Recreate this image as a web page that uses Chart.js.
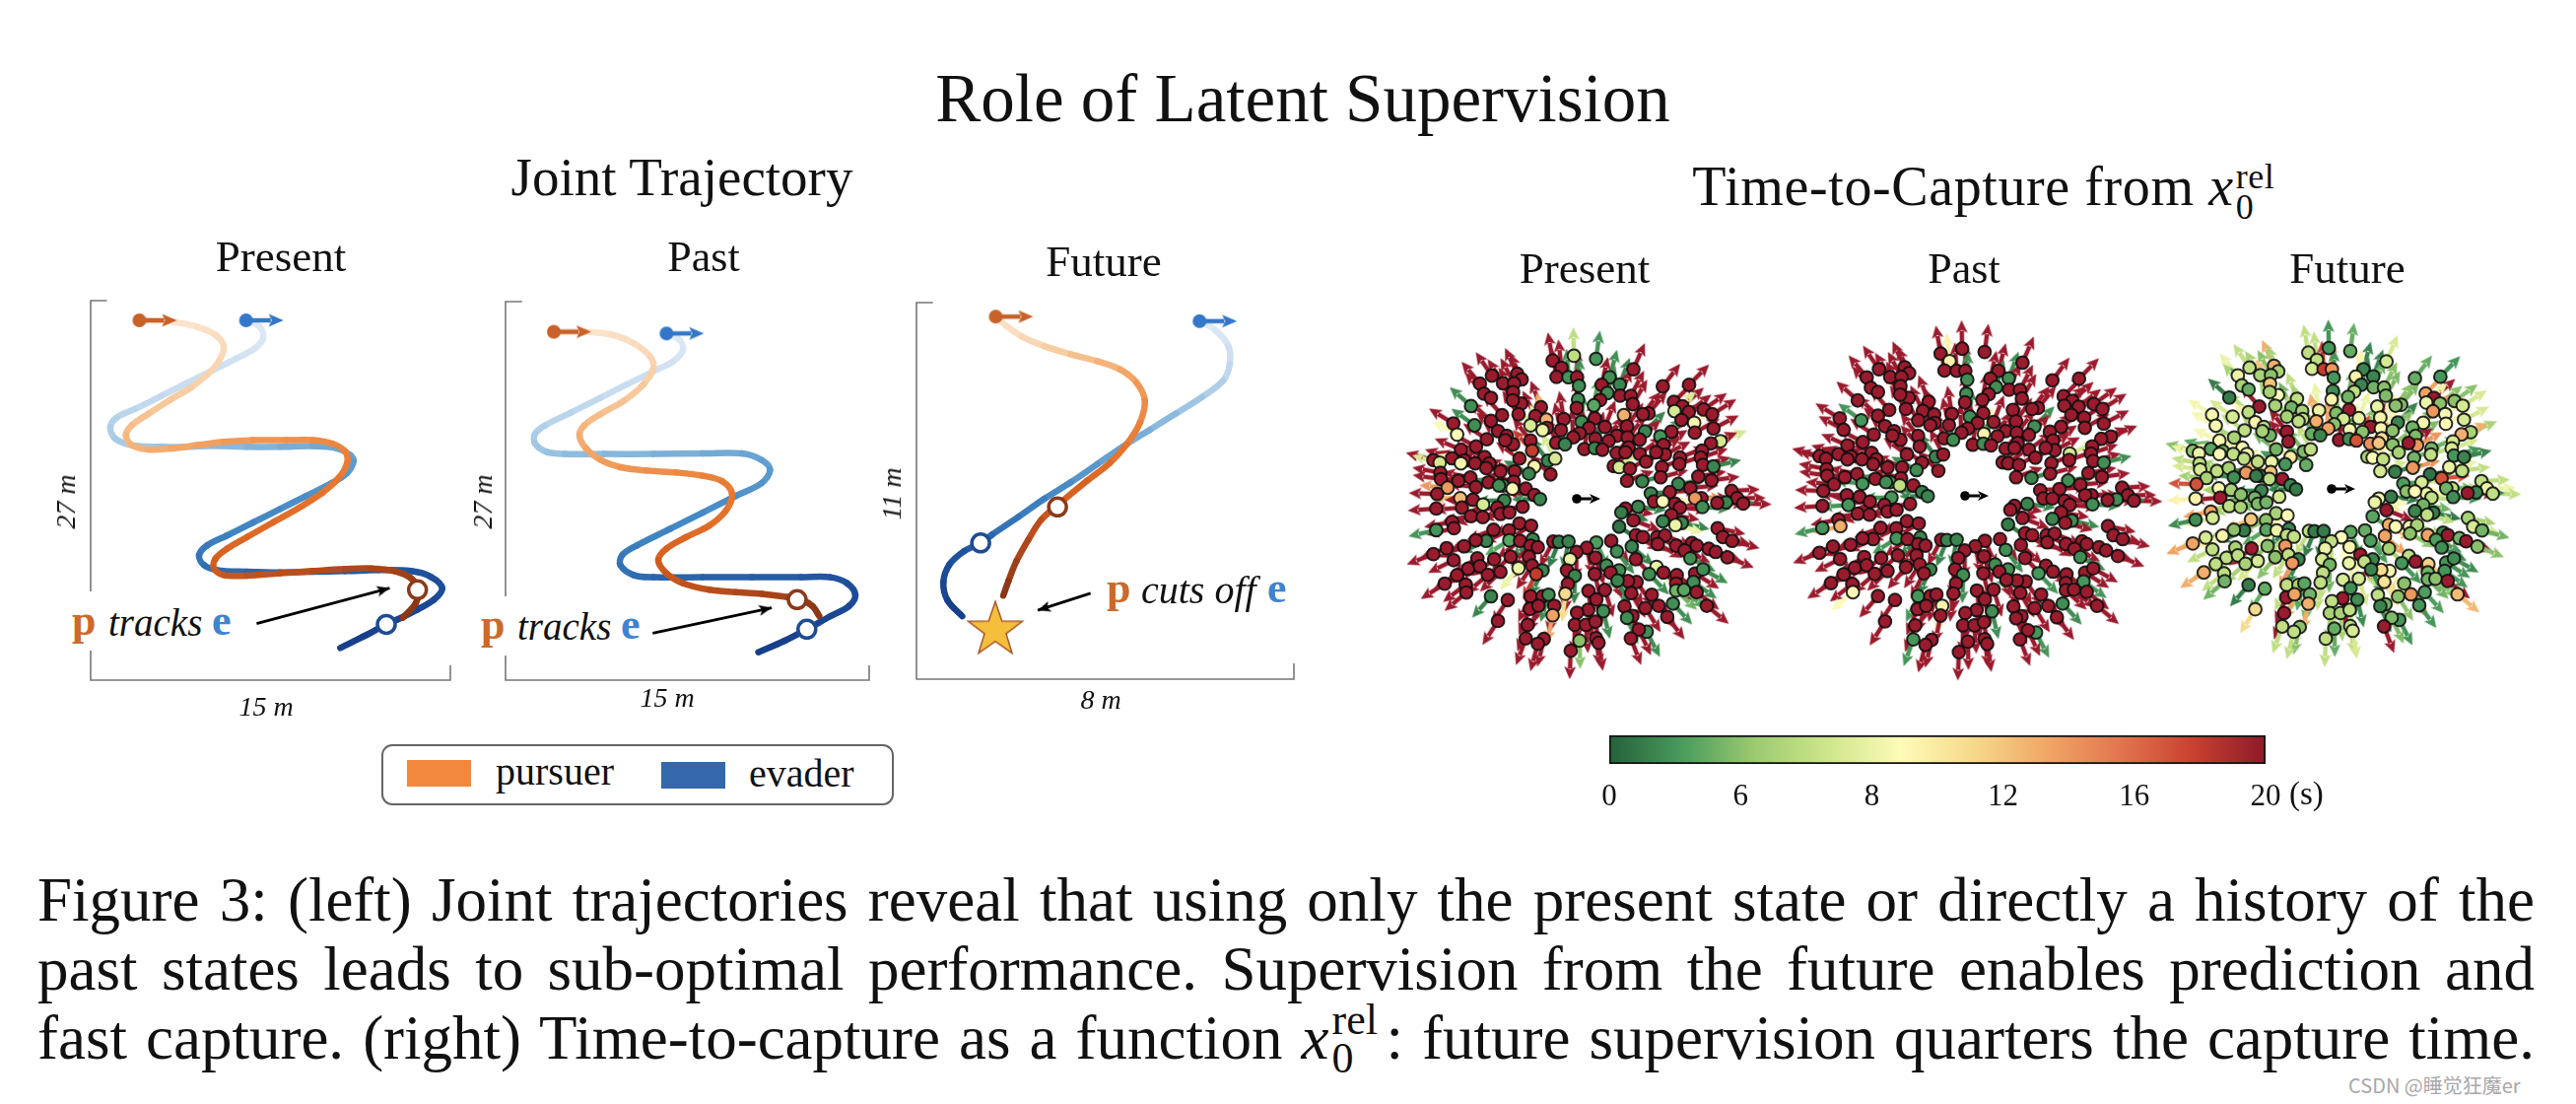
<!DOCTYPE html>
<html>
<head>
<meta charset="utf-8">
<title>Role of Latent Supervision</title>
<script src="https://cdn.jsdelivr.net/npm/chart.js@4"></script>
<style>
  html, body { margin: 0; padding: 0; background: #fff; }
  #page { position: relative; width: 2614px; height: 1120px; overflow: hidden; background: #fff;
          font-family: "Liberation Serif", serif; color: #111; filter: blur(0.5px); }
  canvas { position: absolute; }
  .t { position: absolute; white-space: nowrap; line-height: 1; }
  .cap { position: absolute; left: 38px; width: 2534px; font-size: 63px; line-height: 1;
         text-align: justify; text-align-last: justify; }
  .rel { display: inline-block; position: relative; }
  .rel span { position: absolute; left: 0; line-height: 1; }
</style>
</head>
<body>
<div id="page">
  <canvas id="traj1"></canvas>
  <canvas id="traj2"></canvas>
  <canvas id="traj3"></canvas>
  <canvas id="ttc1"></canvas>
  <canvas id="ttc2"></canvas>
  <canvas id="ttc3"></canvas>
  <canvas id="cbar"></canvas>
</div>
<script>
// joint trajectories, metres inside each bracket
const presentPursuerX = [2.03,3.49,4.45,5.21,5.55,5.34,4.86,4.18,3.36,2.40,1.71,1.47,1.71,2.40,3.36,4.45,5.55,6.78,8.15,9.25,10.07,10.62,10.69,10.34,9.66,8.70,7.60,6.51,5.69,5.21,5.14,5.55,6.51,7.88,9.25,10.62,11.71,12.67,13.36,13.66,13.56,13.02];
const presentPursuerY = [25.60,25.48,25.13,24.55,23.73,22.68,21.74,20.81,19.99,18.94,18.12,17.42,16.72,16.41,16.48,16.72,16.95,17.07,17.07,17.07,16.83,16.25,15.43,14.38,13.33,12.27,11.22,10.17,9.35,8.65,7.95,7.48,7.43,7.60,7.76,7.90,7.95,7.76,7.25,6.43,5.49,4.44];
const presentEvaderX = [6.48,7.06,7.19,6.85,6.10,5.14,4.04,2.95,1.85,1.10,0.82,1.03,1.71,2.81,4.04,5.14,6.51,7.88,9.25,10.21,10.82,10.96,10.69,10.07,8.97,7.88,6.78,5.69,4.86,4.52,4.73,5.27,6.51,7.88,9.25,10.62,11.99,13.36,14.18,14.66,14.32,13.63,12.81,12.33,11.44,10.41];
const presentEvaderY = [25.60,25.13,24.32,23.61,22.91,22.09,21.16,20.22,19.29,18.70,18.00,17.18,16.72,16.60,16.60,16.67,16.60,16.60,16.65,16.53,16.02,15.55,14.73,14.03,13.09,12.16,11.22,10.29,9.59,8.88,8.18,7.83,7.72,7.67,7.72,7.76,7.83,7.76,7.36,6.55,5.73,5.03,4.33,3.97,3.16,2.29];
const pastPursuerX = [1.99,3.25,4.34,5.28,5.96,6.10,5.69,4.88,3.93,3.25,3.05,3.32,3.93,4.74,5.83,7.05,8.13,8.94,9.35,9.08,8.40,7.45,6.64,6.30,6.64,7.32,8.40,9.49,10.57,11.65,12.20,12.67,12.94];
const pastPursuerY = [24.85,24.85,24.66,24.03,23.09,22.27,21.10,19.92,18.99,18.17,17.46,16.53,15.70,15.19,14.95,14.81,14.58,14.18,13.24,12.07,11.02,10.20,9.38,8.56,7.62,6.91,6.45,6.28,6.16,5.93,5.74,5.27,4.57];
const pastEvaderX = [6.64,7.18,7.32,6.91,6.10,5.01,3.93,2.71,1.63,1.22,1.22,1.69,2.44,4.07,6.10,8.13,9.76,10.57,10.91,10.57,9.49,8.13,6.78,5.42,4.81,4.74,5.28,6.10,8.13,10.16,12.20,13.41,14.09,14.43,14.16,13.41,12.43,11.52,10.43];
const pastEvaderY = [24.73,24.26,23.56,22.74,22.03,21.10,20.16,19.10,18.17,17.58,16.88,16.29,16.13,16.13,16.13,16.17,16.17,15.70,15.00,14.06,13.13,11.95,10.78,9.61,8.91,8.20,7.50,7.34,7.34,7.34,7.34,7.34,6.91,6.09,5.27,4.57,3.63,2.81,1.99];
const futurePursuerX = [1.68,1.88,2.23,2.71,3.27,3.83,4.31,4.66,4.84,4.73,4.45,4.10,3.62,2.99,2.64,2.37,2.12,1.95,1.84];
const futurePursuerY = [10.59,10.35,10.01,9.73,9.49,9.29,9.05,8.67,8.14,7.47,6.85,6.32,5.80,5.08,4.65,4.07,3.45,2.87,2.44];
const futureEvaderX = [6.00,6.33,6.61,6.64,6.50,6.05,5.50,4.94,4.38,3.83,3.27,2.71,2.16,1.60,1.36,1.01,0.70,0.57,0.66,0.97];
const futureEvaderY = [10.46,10.20,9.73,9.20,8.72,8.24,7.76,7.28,6.80,6.28,5.75,5.27,4.74,4.22,3.98,3.74,3.35,2.83,2.30,1.84];

// where the open circles sit on each run [x, y]
const presentPursuerNow = [13.63, 6.43], presentEvaderNow = [12.33, 3.97];
const pastPursuerNow = [12.03, 5.74], pastEvaderNow = [12.43, 3.63];
const futurePursuerNow = [2.99, 5.03], futureEvaderNow = [1.36, 3.98];
const captureStar = [1.67, 1.49];

// callout arrows [tailX, tailY, headX, headY]
const presentCallout = [6.92, 4.02, 12.47, 6.55];
const pastCallout = [6.07, 3.35, 10.98, 5.16];
const futureCallout = [3.69, 2.51, 2.57, 2.01];

// initial relative states, same set in all three right hand panels
const relX = [-0.76,-0.09,0.61,-0.48,1.79,-0.64,-0.26,0.01,1.04,-2.68,
  -1.88,-1.74,-3.06,-2.33,-1.98,0.07,1.36,0.79,2.72,3.55,
  -2.93,-2.71,-2.01,0.97,1.37,1.71,0.04,0.74,-1.75,-2.02,
  -3.34,3.07,3.34,1.77,0.54,-1.13,0,4.01,4.28,3.54,
  3.09,-1.84,-2.36,-1.31,2.27,1.49,2.09,-0.96,-0.41,-2.71,
  3.31,-3.90,-3.23,-1.46,0.15,0.57,3.71,4.32,-3.78,-2.49,
  -0.94,-1.08,-0.50,0.39,0.89,1.59,2.16,2.99,3.73,0.09,
  -0.11,-2.21,-2.84,1.27,1.61,2.64,4.54,0.59,1.01,1.99,
  -1.46,-2.01,-2.26,-0.65,-0.37,-3.18,4.24,2.74,0.24,0.57,
  0.81,-1.41,-3.66,1.64,1.26,1.54,1.99,2.79,2.51,3.96,
  3.92,-4.53,-3.94,-3.55,-2.91,-1.81,-0.91,-0.68,3.26,2.19,
  3.24,3.99,-4.33,-3.66,-3.21,-2.76,-2.86,-2.41,-1.96,-1.34,
  4.32,1.17,1.34,1.68,2.69,-1.51,-0.83,-4.31,-4.29,-3.74,
  -3.36,3.84,2.65,1.59,2.07,4.26,3.21,-2.79,-1.99,-2.33,
  -2.46,-1.61,-4.08,-3.19,-2.03,3.59,4.89,2.94,2.34,-4.41,
  -3.68,-3.28,-1.34,-1.16,-2.29,3.94,3.74,5.07,5.26,4.72,
  4.44,2.44,3.10,2.72,3.26,3.97,1.94,1.54,1.41,-4.44,
  -3.63,-2.96,-1.71,-2.51,-2.41,-2.13,2.99,-3.34,-2.97,-3.94,
  -3.88,1.79,2.72,3.32,3.12,-1.81,-1.44,1.34,4.45,-4.44,
  -2.63,-2.14,4.62,4.91,2.54,2.79,1.87,2.09,-2.86,-3.19,
  -2.13,-1.79,-1.39,-0.74,-0.56,-0.26,0.62,1.09,1.74,2.56,
  3.14,3.64,3.79,3.41,4.17,4.39,-3.56,-4.11,-4.53,-1.46,
  -1.23,0.32,-0.01,1.27,1.87,0.59,4.76,3.59,-3.89,-3.14,
  -2.61,-2.09,-1.51,-0.21,2.52,-3.43,-3.06,-1.84,-1.41,-1.08,
  0.94,1.34,-0.31,-0.06,0.57,1.07,2.29,2.74,3.16,3.74,
  3.99,-1.28,-2.41,-2.81,-3.78,-4.17,-3.51,-3.49,1.89,1.62,
  1.29,3.14,3.69,-0.28,1.72,0.89,0.37,2.37,3.14,3.39,
  3.79,-2.71,-2.18,-1.46,-1.08,-0.36,-0.89,0.62,3.04,2.59,
  2.17,1.51,-0.71,-1.48,-1.21,0.36,0.01,0.84,4.11,2.86,
  1.76,1.59,-0.76,-1.55,-2.49,-0.06,0.29,0.59,2.21,1.96,
  -1.61,-1.04,-1.23,0.61,0.69,0.09,1.71,-0.19];
const relY = [4.37,4.52,4.42,4.14,4.09,3.85,3.84,3.84,3.84,3.89,
  3.95,3.77,3.64,3.65,3.65,3.57,3.61,3.60,3.55,3.60,
  3.32,3.19,3.37,3.34,3.26,3.25,3.14,3.12,3.01,3.11,
  2.93,3.06,2.92,2.99,2.95,2.89,2.87,2.82,2.67,2.74,
  2.77,2.67,2.64,2.61,2.70,2.64,2.67,2.50,2.52,2.46,
  2.49,2.38,2.32,2.32,2.43,2.54,2.40,2.22,2.03,2.14,
  2.24,2.17,2.17,2.24,2.27,2.29,2.13,2.12,2.09,2.07,
  1.94,1.99,1.88,1.99,1.94,1.97,1.82,1.90,1.83,1.87,
  1.84,1.72,1.85,1.77,1.72,1.65,1.75,1.70,1.57,1.60,
  1.55,1.52,1.55,1.62,1.45,1.47,1.42,1.40,1.47,1.52,
  1.30,1.22,1.28,1.21,1.32,1.27,1.20,1.27,1.30,1.17,
  1.10,1.07,1.14,1.12,1.12,1.12,0.97,0.87,0.87,1.02,
  1.02,1.03,1.00,0.95,1.00,0.79,0.77,0.82,0.62,0.57,
  0.67,0.70,0.68,0.57,0.55,0.58,0.47,0.52,0.54,0.42,
  0.42,0.32,0.35,0.37,0.32,0.34,0.25,0.21,0.17,0.15,
  0.02,-0.03,0.12,-0.01,-0.05,0.02,0.02,0.02,-0.15,-0.11,
  -0.13,-0.08,-0.15,-0.08,-0.28,-0.26,-0.25,-0.31,-0.43,-0.31,
  -0.28,-0.18,-0.25,-0.28,-0.48,-0.43,-0.51,-0.55,-0.58,-0.73,
  -0.93,-0.68,-0.71,-0.76,-0.83,-0.78,-0.85,-0.88,-0.93,-0.99,
  -0.98,-1.00,-1.21,-1.33,-1.21,-1.16,-1.15,-1.21,-1.33,-1.31,
  -1.31,-1.33,-1.28,-1.35,-1.36,-1.35,-1.38,-1.33,-1.51,-1.43,
  -1.48,-1.40,-1.48,-1.63,-1.58,-1.68,-1.50,-1.56,-1.75,-1.48,
  -1.53,-1.55,-1.68,-1.66,-1.91,-1.86,-1.85,-1.88,-1.94,-1.88,
  -1.91,-1.83,-1.83,-1.91,-2.15,-2.21,-2.13,-2.19,-2.11,-2.26,
  -2.11,-2.26,-2.26,-2.43,-2.38,-2.33,-2.38,-2.33,-2.41,-2.36,
  -2.23,-2.38,-2.31,-2.40,-2.41,-2.68,-2.71,-2.96,-2.63,-2.60,
  -2.58,-2.68,-2.63,-2.69,-2.98,-2.88,-2.91,-3.03,-2.90,-2.88,
  -2.95,-3.08,-3.20,-3.08,-3.08,-3.00,-3.03,-3.18,-3.31,-3.38,
  -3.45,-3.40,-3.38,-3.48,-3.38,-3.51,-3.60,-3.55,-3.38,-3.73,
  -3.70,-3.76,-3.68,-3.98,-3.86,-3.98,-3.98,-3.88,-4.20,-4.13,
  -4.41,-4.43,-4.58,-4.40,-4.55,-4.48,-4.41,-4.80];

// time to capture in seconds for each of those states
const ttcPresent = [20,7,3,20,20,20,3,20,2.5,20,
  20,20,20,20,20,2.5,2,20,20,20,
  20,20,20,2.5,20,20,2.5,20,20,20,
  2.5,20,20,20,4,20,20,20,20,20,
  7.5,20,20,20,20,13,20,13,20,20,
  20,20,2.5,7.5,2.5,20,9.5,20,9,20,
  20,8,20,20,20,20,2,20,20,20,
  20,20,20,20,20,3,7.5,20,20,20,
  20,20,20,20,2,20,20,20,20,2,
  20,18,20,20,20,20,20,20,20,20,
  20,20,20,20,20,20,2,7.5,20,20,
  20,20,7.5,8.5,20,20,20,20,20,9.5,
  2,20,7.5,20,20,2,20,20,20,20,
  20,20,20,20,2,20,2,20,20,2.5,
  2.5,20,14,20,9,20,20,20,2,20,
  12.5,20,20,2,2,20,14,20,20,2,
  20,20,20,9,20,2.5,2,20,1.5,20,
  20,7.5,20,20,20,20,20,20,20,20,
  20,20,2,2,8,20,20,1,20,3,
  20,20,20,20,20,20,20,20,2,20,
  4,20,2,20,1.5,2,3.5,20,2,20,
  20,20,20,20,20,20,20,20,20,20,
  20,20,20,2.5,20,20,20,2.5,20,20,
  20,20,20,8,8,20,20,8,20,2,
  2.5,2.5,20,2,20,20,2.5,20,20,20,
  2.5,18,20,20,20,20,20,20,20,20,
  2,20,2.5,20,20,20,20,20,5,4,
  20,2,20,20,20,11,2.5,20,2.5,20,
  20,20,20,20,20,20,20,2.5,20,20,
  20,2.5,13.5,20,20,20,20,20,2.5,20,
  20,20,20,20,20,6,20,20];
const ttcPast = [20,20,20,9.5,20,20,20,20,20,20,
  20,20,20,20,20,2.5,2.5,20,20,20,
  20,20,20,2.5,20,20,2.5,20,20,20,
  20,20,20,20,20,20,20,20,20,20,
  20,20,20,20,20,20,20,20,20,20,
  20,20,3,20,2.5,20,20,20,20,20,
  20,20,20,20,20,20,2.5,20,20,20,
  20,20,20,20,20,20,20,9.5,20,20,
  20,20,20,20,2.5,20,20,20,20,2.5,
  20,20,20,20,20,20,20,20,20,20,
  20,20,20,20,20,20,2,20,7.5,20,
  20,20,20,20,20,20,20,20,20,20,
  2.5,20,20,20,20,2.5,20,20,20,20,
  20,20,20,20,2,20,2.5,20,20,3,
  2.5,20,20,3,7,20,20,20,20,20,
  20,20,1.5,2,3,20,20,20,20,2.5,
  20,20,20,20,20,2.5,2,20,20,20,
  3,20,20,20,20,20,20,20,20,20,
  13,20,2,2.5,20,20,20,1.5,20,3,
  20,20,20,20,20,20,20,20,20,20,
  3,20,2,20,2,2,20,20,20,20,
  20,20,20,20,20,20,20,20,20,20,
  20,20,20,2.5,20,20,20,2.5,20,20,
  20,20,20,20,20,20,20,20,20,2,
  2.5,2.5,20,2.5,20,20,3,20,20,20,
  20,20,20,20,20,20,20,9,20,20,
  20,20,3,20,20,20,20,20,20,20,
  20,20,20,3,20,20,20,20,2.5,20,
  20,20,9.5,20,20,20,20,2.5,20,20,
  20,20,20,20,20,20,20,20,3,20,
  3,20,20,20,20,20,20,20];
const ttcFuture = [7,3,4.5,7,7.5,7.5,18,14,2,7,
  13,6.5,8,6.5,6,3,2,9.5,4.5,3,
  6.5,4.5,12,2,5,6,2.5,7,9,6.5,
  1.5,13.5,20,5.5,5,7,9.5,6,7.5,6,
  8,6.5,20,5,5.5,8,6,6.5,8,7,
  14,8.5,7.5,6.5,5.5,20,9,7.5,8.5,9.5,
  7,7,13,7.5,8,9.5,2,8.5,9,6,
  13.5,7,7,20,9.5,5,6.5,8.5,6,6,
  20,5,6.5,4.5,2,6.5,13,5.5,20,2.5,
  17,20,8.5,10.5,14.5,12,6,14,20,7.5,
  7.5,6,4,5,8.5,5,5.5,7,5,6.5,
  7,3,8,9,7,8.5,7,7,8,10,
  2,6.5,9,7,5,3,4.5,7,7.5,7,
  6.5,8,14,7.5,1.5,7,1,14,12,1.5,
  1.5,20,6.5,2.5,7,17,7,7.5,3.5,17,
  8.5,6.5,2,1.5,2,7,5,8,7,2,
  20,6,8,9,7,2.5,1.5,8.5,8,9.5,
  20,6,7.5,5,5.5,5,5,7,6.5,13.5,
  7.5,20,2,1.5,7,6.5,9,4,6.5,2.5,
  12,6,7.5,5,8.5,6.5,13,9,1.5,6,
  4,8,2,7,1.5,1.5,4,4.5,13.5,6,
  13.5,2,20,3.5,5,20,9.5,7.5,13.5,7,
  7,9,7,3.5,6.5,8.5,6,2.5,7,6.5,
  20,6,14,8,7,7,7,6,7,2,
  20,2,7.5,5,8,7,3,20,11.5,3,
  2.5,14,7.5,6.5,7,13,7,5,8.5,11,
  2,5,3,7,10.5,7.5,7.5,6,5,6,
  20,1.5,4.5,7,6.5,7,4,2.5,3.5,14,
  6,7,5,20,13.5,20,7,2.5,12.5,3,
  5,2,13,20,11,6.5,6.5,7,3,5.5,
  7,6,7,7,7.5,4.5,20,7];

// colour bar
const barTickLabels = ['0', '6', '8', '12', '16', '20'];
const barTickSeconds = [0, 6, 8, 12, 16, 20];
const barColors = ['#25613a','#4a9b5d','#9ccb70','#cfe68c','#fdfbb8','#f6d98b','#f0a766','#e3754f','#c8412f','#8c1a2a'];
// dots and arrows sit a little brighter than the end of the bar
const dotRed = '#9a1b2d';

const pursuerRamp = ['#fbe6d2','#f9d4ae','#f5b57c','#ef9350','#e8772f','#d6601f','#b24a1b','#8c3716'];
const evaderRamp = ['#e1eaf6','#c7dcf0','#9cc5e3','#6aa5d3','#4388c4','#2c68ae','#1e4f9b','#173f8a'];

Chart.defaults.font.family = '"Liberation Serif", serif';
Chart.defaults.animation = false;
Chart.defaults.responsive = false;
Chart.defaults.events = [];
Chart.defaults.plugins.legend.display = false;
Chart.defaults.plugins.tooltip.enabled = false;

function hexToRgb(h) {
  return [parseInt(h.slice(1, 3), 16), parseInt(h.slice(3, 5), 16), parseInt(h.slice(5, 7), 16)];
}

// sample a colour list at 0..1
function ramp(colors, t) {
  const p = Math.max(0, Math.min(1, t)) * (colors.length - 1);
  const i = Math.min(Math.floor(p), colors.length - 2);
  const a = hexToRgb(colors[i]), b = hexToRgb(colors[i + 1]);
  const f = p - i;
  return `rgb(${a.map((v, k) => Math.round(v + (b[k] - v) * f)).join(',')})`;
}

// the bar ticks are evenly spaced but not linear in seconds
function ttcColor(sec) {
  if (sec >= 20) return dotRed;
  let k = 0;
  while (k < barTickSeconds.length - 2 && sec > barTickSeconds[k + 1]) k++;
  const f = (sec - barTickSeconds[k]) / (barTickSeconds[k + 1] - barTickSeconds[k]);
  return ramp(barColors, (k + f) / (barTickSeconds.length - 1));
}

// arrow sprite, its centre is the tail of the arrow
const spriteCache = {};
function arrowSprite(color, len, headLen, headW, shaftW, dotR) {
  const key = [color, len, headLen, headW, shaftW, dotR].join('|');
  if (spriteCache[key]) return spriteCache[key];
  const c = document.createElement('canvas');
  c.width = c.height = 2 * len + 2;
  const g = c.getContext('2d');
  g.translate(len + 1, len + 1);
  g.fillStyle = color;
  g.fillRect(0, -shaftW / 2, len - headLen + 2, shaftW);
  g.beginPath();
  g.moveTo(len, 0);
  g.lineTo(len - headLen, -headW / 2);
  g.lineTo(len - headLen + 3, 0);
  g.lineTo(len - headLen, headW / 2);
  g.closePath();
  g.fill();
  if (dotR) {
    g.beginPath();
    g.arc(0, 0, dotR, 0, Math.PI * 2);
    g.fill();
  }
  spriteCache[key] = c;
  return c;
}

// arrow head only, its centre is the tip
function headSprite() {
  const c = document.createElement('canvas');
  c.width = c.height = 30;
  const g = c.getContext('2d');
  g.translate(15, 15);
  g.fillStyle = '#000';
  g.beginPath();
  g.moveTo(0, 0);
  g.lineTo(-13, -5.5);
  g.lineTo(-10, 0);
  g.lineTo(-13, 5.5);
  g.closePath();
  g.fill();
  return c;
}

function starSprite() {
  const c = document.createElement('canvas');
  c.width = c.height = 64;
  const g = c.getContext('2d');
  g.translate(32, 34);
  g.beginPath();
  for (let i = 0; i < 10; i++) {
    const r = i % 2 ? 11.5 : 29;
    const a = -Math.PI / 2 + i * Math.PI / 5;
    g.lineTo(r * Math.cos(a), r * Math.sin(a));
  }
  g.closePath();
  g.fillStyle = '#f5bf3c';
  g.fill();
  g.strokeStyle = '#a8562c';
  g.lineWidth = 1.5;
  g.stroke();
  return c;
}

function pts(xs, ys) {
  return xs.map((x, i) => ({ x: x, y: ys[i] }));
}

function runLine(xs, ys, colors, order) {
  const n = xs.length;
  return {
    data: pts(xs, ys),
    showLine: true,
    pointRadius: 0,
    borderWidth: 6.5,
    borderCapStyle: 'round',
    borderJoinStyle: 'round',
    tension: 0.35,
    clip: false,
    order: order,
    segment: { borderColor: c => ramp(colors, c.p0DataIndex / (n - 2)) }
  };
}

function nowMarker(p, color) {
  return {
    data: [{ x: p[0], y: p[1] }], showLine: false, pointRadius: 9, borderWidth: 3.5,
    pointBackgroundColor: '#fff', pointBorderColor: color, clip: false, order: 2
  };
}

function startMarker(x, y, color) {
  return {
    data: [{ x: x, y: y }], showLine: false, pointRadius: 4,
    pointStyle: arrowSprite(color, 38, 15, 13, 4.5, 7), clip: false, order: 3
  };
}

function calloutLine(q) {
  return {
    data: [{ x: q[0], y: q[1] }, { x: q[2], y: q[3] }],
    showLine: true, borderColor: '#000', borderWidth: 2.8,
    pointRadius: [0, 4], pointStyle: headSprite(), clip: false, order: 1,
    rotation: c => {
      const s = c.chart.scales;
      const dx = s.x.getPixelForValue(q[2]) - s.x.getPixelForValue(q[0]);
      const dy = s.y.getPixelForValue(q[3]) - s.y.getPixelForValue(q[1]);
      return Math.atan2(dy, dx) * 180 / Math.PI;
    }
  };
}

function bracketLine(w, h, topTick, sideTick) {
  return {
    data: [{ x: topTick, y: h }, { x: 0, y: h }, { x: 0, y: 0 }, { x: w, y: 0 }, { x: w, y: sideTick }],
    showLine: true, borderColor: '#777', borderWidth: 1.6, pointRadius: 0, clip: false, order: 6
  };
}

function drawTrajectory(id, box, w, h, datasets) {
  const pad = 30;
  const el = document.getElementById(id);
  el.width = box.r - box.l + 2 * pad;
  el.height = box.b - box.t + 2 * pad;
  el.style.left = (box.l - pad) + 'px';
  el.style.top = (box.t - pad) + 'px';
  new Chart(el, {
    type: 'scatter',
    data: { datasets: datasets },
    options: {
      layout: { padding: pad },
      scales: {
        x: { type: 'linear', min: 0, max: w, display: false },
        y: { type: 'linear', min: 0, max: h, display: false }
      }
    }
  });
}

drawTrajectory('traj1', { l: 91.7, r: 456.7, t: 305, b: 690 }, 15, 27, [
  bracketLine(15, 27, 0.68, 1.05),
  runLine(presentEvaderX, presentEvaderY, evaderRamp, 5),
  runLine(presentPursuerX, presentPursuerY, pursuerRamp, 4),
  startMarker(presentEvaderX[0], presentEvaderY[0], '#3477c8'),
  startMarker(presentPursuerX[0], presentPursuerY[0], '#c8622a'),
  nowMarker(presentEvaderNow, '#1e4b92'),
  nowMarker(presentPursuerNow, '#8a3a1a'),
  calloutLine(presentCallout)
]);
drawTrajectory('traj2', { l: 513.3, r: 882.3, t: 306, b: 690 }, 15, 27, [
  bracketLine(15, 27, 0.68, 1.05),
  runLine(pastEvaderX, pastEvaderY, evaderRamp, 5),
  runLine(pastPursuerX, pastPursuerY, pursuerRamp, 4),
  startMarker(pastEvaderX[0], pastEvaderY[0], '#3477c8'),
  startMarker(pastPursuerX[0], pastPursuerY[0], '#c8622a'),
  nowMarker(pastEvaderNow, '#1e4b92'),
  nowMarker(pastPursuerNow, '#8a3a1a'),
  calloutLine(pastCallout)
]);
drawTrajectory('traj3', { l: 930, r: 1313.3, t: 307.3, b: 690 }, 8, 11, [
  bracketLine(8, 11, 0.35, 0.46),
  runLine(futureEvaderX, futureEvaderY, evaderRamp, 5),
  runLine(futurePursuerX, futurePursuerY, pursuerRamp, 4),
  startMarker(futureEvaderX[0], futureEvaderY[0], '#3477c8'),
  startMarker(futurePursuerX[0], futurePursuerY[0], '#c8622a'),
  nowMarker(futureEvaderNow, '#1e4b92'),
  nowMarker(futurePursuerNow, '#8a3a1a'),
  calloutLine(futureCallout),
  { data: [{ x: captureStar[0], y: captureStar[1] }], showLine: false, pointRadius: 4,
    pointStyle: starSprite(), clip: false, order: 0 }
]);

// cx, cy = where the black marker sits, sx, sy = pixels per unit
function drawCapture(id, cx, cy, sx, sy, seconds) {
  const size = 460;
  const el = document.getElementById(id);
  el.width = el.height = size;
  el.style.left = (cx - size / 2) + 'px';
  el.style.top = (cy - size / 2) + 'px';
  const colors = seconds.map(ttcColor);
  const angle = relX.map((x, i) => Math.atan2(-relY[i] * sy, x * sx) * 180 / Math.PI);
  new Chart(el, {
    type: 'scatter',
    data: {
      datasets: [
        { data: [{ x: 0, y: 0 }], pointRadius: 4, pointStyle: arrowSprite('#000', 24, 11, 10, 3, 4.8), order: 0 },
        { data: pts(relX, relY), order: 1, pointRadius: 6.4, pointBorderWidth: 2,
          pointBackgroundColor: colors, pointBorderColor: 'rgba(15,15,15,0.88)' },
        { data: pts(relX, relY), order: 2, pointRadius: 4,
          pointStyle: colors.map(col => arrowSprite(col, 29, 13, 12, 4.5, 0)),
          rotation: angle }
      ]
    },
    options: {
      scales: {
        x: { type: 'linear', min: -size / 2 / sx, max: size / 2 / sx, display: false },
        y: { type: 'linear', min: -size / 2 / sy, max: size / 2 / sy, display: false }
      }
    }
  });
}

drawCapture('ttc1', 1600.3, 505.7, 33.33, 33.33, ttcPresent);
drawCapture('ttc2', 1994.3, 503.3, 33.83, 34.27, ttcPast);
drawCapture('ttc3', 2365.7, 495.7, 32.27, 32.83, ttcFuture);

// colour bar: one floating bar across the tick positions
(function () {
  const el = document.getElementById('cbar');
  el.width = 760;
  el.height = 94;
  el.style.left = '1600px';
  el.style.top = '737px';
  new Chart(el, {
    type: 'bar',
    data: {
      labels: ['ttc'],
      datasets: [{
        data: [[0, barTickLabels.length - 1]],
        barPercentage: 1,
        categoryPercentage: 1,
        borderWidth: 2,
        borderColor: '#111',
        borderSkipped: false,
        backgroundColor: c => {
          const a = c.chart.chartArea;
          if (!a) return barColors[0];
          const g = c.chart.ctx.createLinearGradient(a.left, 0, a.right, 0);
          barColors.forEach((col, i) => g.addColorStop(i / (barColors.length - 1), col));
          return g;
        }
      }]
    },
    options: {
      indexAxis: 'y',
      layout: { padding: { left: 33, right: 61, top: 9, bottom: 0 } },
      scales: {
        y: { display: false },
        x: {
          type: 'linear', min: 0, max: barTickLabels.length - 1,
          // the axis is taller than the bar, layout would cap it at half the height
          afterFit: s => { s.height = 56; },
          grid: { display: false, drawTicks: false }, border: { display: false },
          ticks: {
            stepSize: 1, autoSkip: false, maxRotation: 0, padding: 15, color: '#111',
            font: { size: 31 },
            callback: v => barTickLabels[v]
          }
        }
      }
    }
  });
})();

// text
const page = document.getElementById('page');

function label(html, x, base, size, css) {
  const d = document.createElement('div');
  d.className = 't';
  d.innerHTML = html;
  d.style.left = x + 'px';
  d.style.top = (base - 0.8375 * size) + 'px';
  d.style.fontSize = size + 'px';
  d.style.cssText += css || '';
  page.appendChild(d);
  return d;
}
const mid = 'transform:translateX(-50%);';
const up = 'transform:translate(-50%,0) rotate(-90deg);font-style:italic;';

function whiteBox(l, t, w, h) {
  const d = document.createElement('div');
  d.style.cssText = `position:absolute;background:#fff;left:${l}px;top:${t}px;width:${w}px;height:${h}px`;
  page.appendChild(d);
}

label('Role of Latent Supervision', 1322, 124, 69, mid);
label('Joint Trajectory', 692, 198, 55, mid);
label('Time-to-Capture from <i>x</i><span class="rel" style="width:50px;height:1px"><span style="top:-46px;font-size:36px;left:2px">rel</span><span style="top:-15px;font-size:36px;left:2px">0</span></span>', 2017, 208, 56, mid + 'letter-spacing:0.6px;');

label('Present', 285, 276, 45, mid);
label('Past', 714, 276, 44, mid);
label('Future', 1120, 281, 45, mid);
label('Present', 1608, 288, 45, mid);
label('Past', 1993, 288, 44, mid);
label('Future', 2382, 288, 45, mid);

label('27 m', 67, 518, 28, up);
label('27 m', 490, 518, 28, up);
label('11 m', 905, 510, 28, up);
label('15 m', 270, 726, 28, mid + 'font-style:italic;');
label('15 m', 677, 717, 28, mid + 'font-style:italic;');
label('8 m', 1117, 719, 28, mid + 'font-style:italic;');

const pColor = '#cc6a2a', eColor = '#3f84cf';
whiteBox(70, 600, 170, 60);
label('p', 73, 645, 44, `font-weight:bold;color:${pColor};`);
label('tracks', 110, 645, 39, 'font-style:italic;');
label('e', 215, 645, 44, `font-weight:bold;color:${eColor};`);
whiteBox(488, 605, 165, 60);
label('p', 488, 649, 44, `font-weight:bold;color:${pColor};`);
label('tracks', 525, 649, 39, 'font-style:italic;');
label('e', 630, 649, 44, `font-weight:bold;color:${eColor};`);
label('p', 1123, 612, 44, `font-weight:bold;color:${pColor};`);
label('cuts off', 1158, 612, 40, 'font-style:italic;');
label('e', 1286, 612, 44, `font-weight:bold;color:${eColor};`);

// legend
const box = document.createElement('div');
box.style.cssText = 'position:absolute;left:387px;top:755px;width:516px;height:58px;border:2px solid #666;border-radius:11px;';
page.appendChild(box);
[[413, 771, '#f2883d'], [671, 773, '#3568ab']].forEach(s => {
  const d = document.createElement('div');
  d.style.cssText = `position:absolute;left:${s[0]}px;top:${s[1]}px;width:65px;height:27px;background:${s[2]}`;
  page.appendChild(d);
});
label('pursuer', 503, 796, 40);
label('evader', 760, 798, 40);

label('(s)', 2323, 817, 33);

// caption
function capLine(html, base) {
  const d = document.createElement('div');
  d.className = 'cap';
  d.innerHTML = html;
  d.style.top = (base - 0.8375 * 63) + 'px';
  page.appendChild(d);
}
capLine('Figure 3: (left) Joint trajectories reveal that using only the present state or directly a history of the', 935);
capLine('past states leads to sub-optimal performance. Supervision from the future enables prediction and', 1005);
capLine('fast capture. (right) Time-to-capture as a function <i>x</i><span class="rel" style="width:58px;height:1px"><span style="top:-60px;font-size:44px;left:3px">rel</span><span style="top:-21px;font-size:44px;left:3px">0</span></span>: future supervision quarters the capture time.', 1075);

label('CSDN @睡觉狂魔er', 2383, 1108, 20, 'font-family:"Noto Sans CJK SC","Noto Sans",sans-serif;color:#a8a8a8;');
</script>
</body>
</html>
